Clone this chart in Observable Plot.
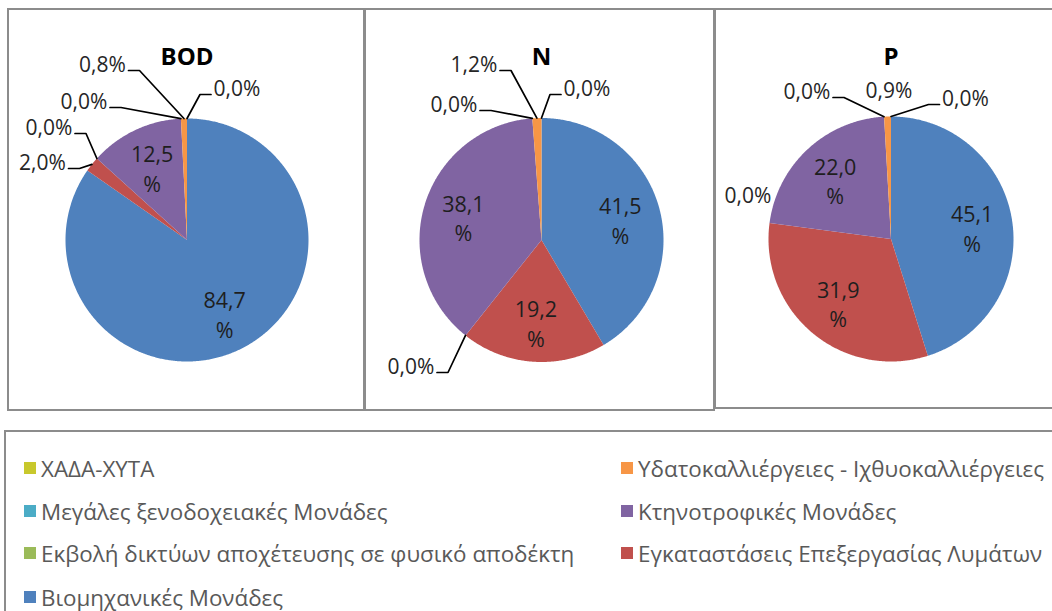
<!DOCTYPE html>
<html>
<head>
<meta charset="utf-8">
<script src="https://cdn.jsdelivr.net/npm/d3@7"></script>
<script src="https://cdn.jsdelivr.net/npm/@observablehq/plot@0.6"></script>
<style>
  html, body { margin: 0; padding: 0; background: #fff; }
  body { width: 1052px; height: 611px; overflow: hidden; position: relative; font-family: "Open Sans", sans-serif; }
  .box { position: absolute; box-sizing: border-box; border: 2px solid #8c8c8c; }
  .plot { position: absolute; }
  .legend-item { position: absolute; display: flex; align-items: center; font-size: 22.4px; color: #595959; white-space: nowrap; }
  .legend-item .sw { width: 12px; height: 12px; margin-right: 5px; flex: none; }
</style>
</head>
<body>
<script>
// ---------- data ----------
const categories = [
  "Βιομηχανικές Μονάδες",
  "Εγκαταστάσεις Επεξεργασίας Λυμάτων",
  "Εκβολή δικτύων αποχέτευσης σε φυσικό αποδέκτη",
  "Κτηνοτροφικές Μονάδες",
  "Μεγάλες ξενοδοχειακές Μονάδες",
  "Υδατοκαλλιέργειες - Ιχθυοκαλλιέργειες",
  "ΧΑΔΑ-ΧΥΤΑ"
];
const colors = ["#4F81BD", "#C0504D", "#9BBB59", "#8064A2", "#4BACC6", "#F79646", "#C8C82C"];
const pollutants = ["BOD", "N", "P"];
const bodValues = [84.7, 2.0, 0.0, 12.5, 0.0, 0.8, 0.0];
const nValues   = [41.5, 19.2, 0.0, 38.1, 0.0, 1.2, 0.0];
const pValues   = [45.1, 31.9, 0.0, 22.0, 0.0, 0.9, 0.0];
const legendOrder = [6, 5, 4, 3, 2, 1, 0];

// ---------- layout (positions / styles, not data) ----------
const panelLayout = [
  {box: {left: 7,   top: 8, width: 358, height: 403}, cx: 186.5, cy: 239.5, r: 121.5},
  {box: {left: 364, top: 8, width: 351, height: 403}, cx: 541,   cy: 239.5, r: 122},
  {box: {left: 714, top: 8, width: 345, height: 401}, cx: 890.5, cy: 238.5, r: 122.5}
];
// outside label placement: category index, offset (px) of label centre from pie centre, leader?
const outsideLayout = [
  [ {c: 5, dx: -84.5, dy: -174.5, lead: true}, {c: 6, dx: 50, dy: -150.5, lead: true},
    {c: 4, dx: -103, dy: -137.5, lead: true}, {c: 2, dx: -138, dy: -111.5, lead: true},
    {c: 1, dx: -144.5, dy: -76.5, lead: true} ],
  [ {c: 5, dx: -67.5, dy: -174.5, lead: true}, {c: 6, dx: 45.5, dy: -150.5, lead: true},
    {c: 4, dx: -87.5, dy: -134.5, lead: true}, {c: 2, dx: -130.5, dy: 127.5, lead: true} ],
  [ {c: 4, dx: -84, dy: -146.5, lead: true}, {c: 5, dx: -2, dy: -147.5, lead: false},
    {c: 6, dx: 74.5, dy: -139.5, lead: true}, {c: 2, dx: -143, dy: -42.5, lead: false} ]
];
const seriesValues = [bodValues, nValues, pValues];
const fmt = v => v.toFixed(1).replace(".", ",");
const FONT = "Open Sans";

pollutants.forEach((name, pi) => {
  const L = panelLayout[pi];
  const vals = seriesValues[pi];
  const total = d3.sum(vals);
  let acc = 0;
  const slices = vals.map((v, i) => {
    const a0 = acc / total * 2 * Math.PI;
    acc += v;
    const a1 = acc / total * 2 * Math.PI;
    return {cat: categories[i], v, a0, a1, mid: (a0 + a1) / 2};
  });
  const pt = (a, rr) => ({x: rr * Math.sin(a), y: -rr * Math.cos(a)});

  const slicePts = [];
  slices.filter(s => s.v > 0).forEach(s => {
    slicePts.push({cat: s.cat, x: 0, y: 0});
    const n = Math.max(2, Math.ceil((s.a1 - s.a0) / (Math.PI / 360)));
    for (let k = 0; k <= n; k++) {
      const p = pt(s.a0 + (s.a1 - s.a0) * k / n, 1);
      slicePts.push({cat: s.cat, x: p.x, y: p.y});
    }
  });

  const inside = slices.filter(s => s.v >= 5).map(s => {
    const p = pt(s.mid, 0.67);
    return {x: p.x, y: p.y + 1 / L.r, text: fmt(s.v) + "\n%"};
  });

  const outside = [];
  const leaders = [];
  outsideLayout[pi].forEach((o, k) => {
    const s = slices[o.c];
    const lx = o.dx / L.r, ly = o.dy / L.r;
    outside.push({x: lx, y: ly, text: fmt(s.v) + "%"});
    if (o.lead) {
      const end = pt(s.mid, 1);
      const sign = end.x > lx ? 1 : -1;
      const sx = lx + sign * 26 / L.r;
      const yy = ly + 5 / L.r;
      const ex = sx + sign * 11 / L.r;
      leaders.push({id: k, x: sx, y: yy}, {id: k, x: ex, y: yy}, {id: k, x: end.x, y: end.y});
    }
  });

  const {left, top, width, height} = L.box;
  const xd = [(left - L.cx) / L.r, (left + width - L.cx) / L.r];
  const yd = [(top - L.cy) / L.r, (top + height - L.cy) / L.r];

  const chart = Plot.plot({
    width, height,
    margin: 0,
    style: {fontFamily: FONT, background: "transparent", overflow: "visible"},
    x: {domain: xd, range: [0, width], axis: null},
    y: {domain: yd, range: [0, height], axis: null},
    color: {domain: categories, range: colors},
    marks: [
      Plot.line(slicePts, {x: "x", y: "y", z: "cat", fill: "cat", stroke: "none", curve: "linear"}),
      Plot.line(leaders, {x: "x", y: "y", z: "id", stroke: "#000", strokeWidth: 1.7, curve: "linear"}),
      Plot.text(inside, {x: "x", y: "y", text: "text", fontSize: 21.5, lineHeight: 1.38, fill: "#1e1e1e", fontFamily: FONT}),
      Plot.text(outside, {x: "x", y: "y", text: "text", fontSize: 21, fill: "#262626", fontFamily: FONT}),
      Plot.text([name], {x: () => 0, frameAnchor: "top", dy: 47 - top, text: d => d, fontSize: 24, fontWeight: "bold", fill: "#000", fontFamily: FONT})
    ]
  });
  chart.classList.add("plot");
  chart.style.left = left + "px";
  chart.style.top = top + "px";
  document.body.appendChild(chart);

  const b = document.createElement("div");
  b.className = "box";
  Object.assign(b.style, {left: left + "px", top: top + "px", width: width + "px", height: height + "px"});
  document.body.appendChild(b);
});

// legend
const lg = document.createElement("div");
lg.className = "box";
Object.assign(lg.style, {left: "4px", top: "430px", width: "1070px", height: "200px"});
document.body.appendChild(lg);
const colX = [24, 621], rowY = [468, 511, 553, 597];
legendOrder.forEach((ci, k) => {
  const item = document.createElement("div");
  item.className = "legend-item";
  const col = k % 2, row = Math.floor(k / 2);
  Object.assign(item.style, {left: colX[col] + "px", top: (rowY[row] - 15) + "px", height: "30px"});
  const sw = document.createElement("span");
  sw.className = "sw";
  sw.style.background = colors[ci];
  const t = document.createElement("span");
  t.textContent = categories[ci];
  item.appendChild(sw); item.appendChild(t);
  document.body.appendChild(item);
});
</script>
</body>
</html>
